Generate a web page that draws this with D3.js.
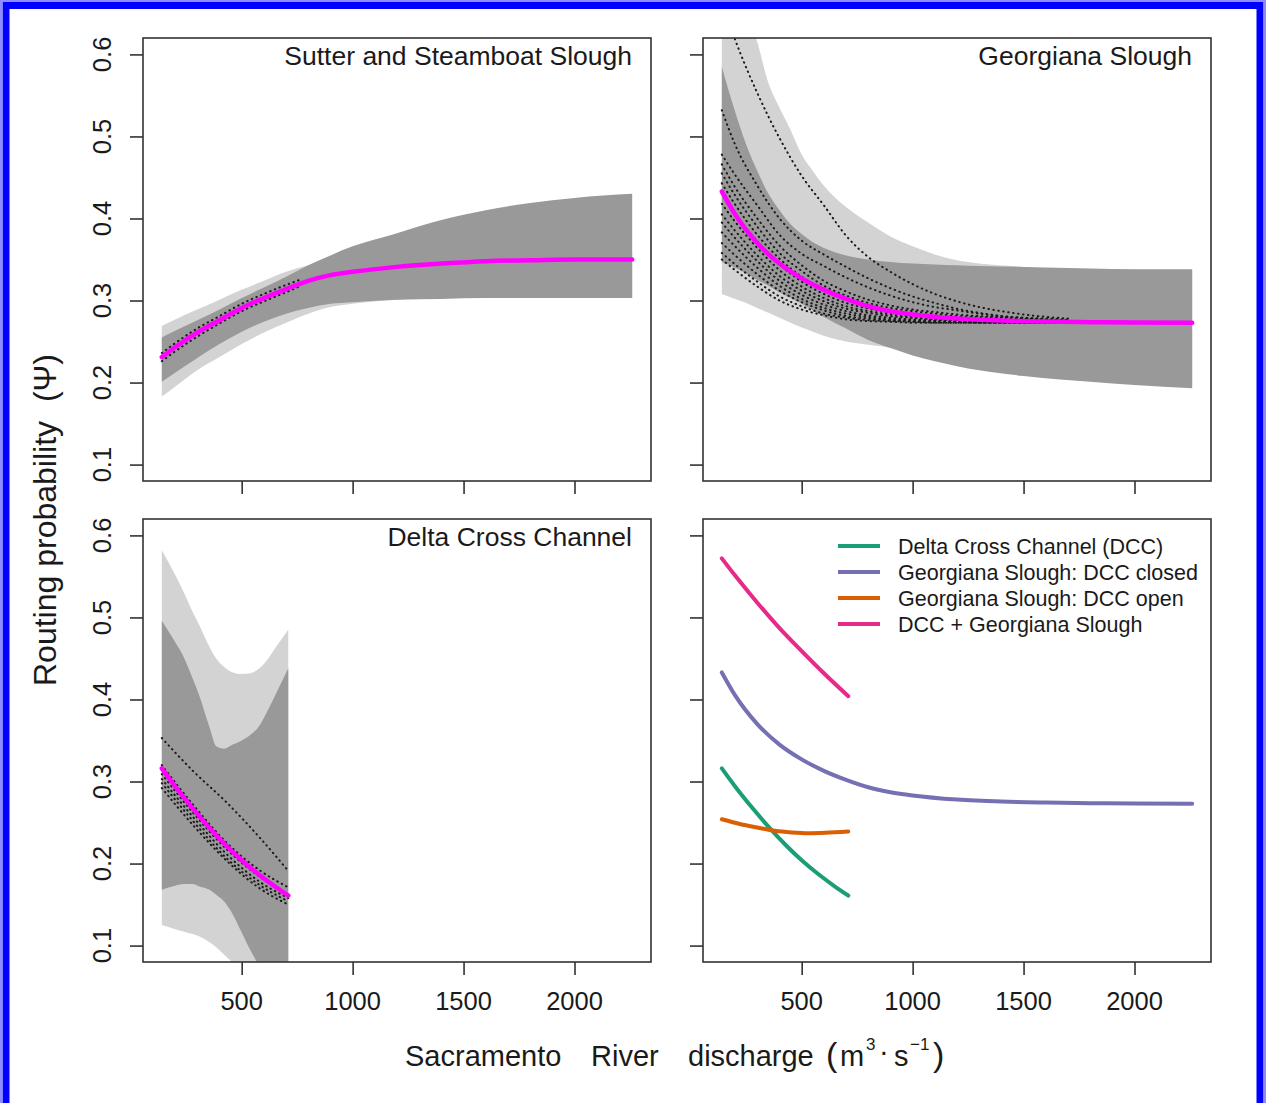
<!DOCTYPE html>
<html><head><meta charset="utf-8">
<script src="https://cdn.jsdelivr.net/npm/d3@7"></script>
<style>
body{margin:0;background:#fff}
svg{display:block}
text{font-family:"Liberation Sans",Arial,Helvetica,sans-serif;fill:#1a1a1a}
</style></head>
<body><svg id="c" width="1266" height="1103"></svg>
<script>
// ---------------- DATA ----------------
const xTicks = [500, 1000, 1500, 2000];
const yTicks = [0.1, 0.2, 0.3, 0.4, 0.5, 0.6];
const xRange = [140, 2260];
const yRange = [0.1, 0.6];
const panelTitles = ["Sutter and Steamboat Slough", "Georgiana Slough", "Delta Cross Channel", ""];
const legendLabels = ["Delta Cross Channel (DCC)", "Georgiana Slough: DCC closed", "Georgiana Slough: DCC open", "DCC + Georgiana Slough"];
const legendColors = ["#1b9e77", "#7570b3", "#d95f02", "#e7298a"];

// Sutter and Steamboat Slough
const sutterX       = [140, 200, 300, 400, 500, 600, 700, 800, 900, 1000, 1200, 1400, 1600, 1800, 2000, 2260];
const sutterMean    = [0.231, 0.243, 0.261, 0.276, 0.291, 0.303, 0.314, 0.324, 0.331, 0.335, 0.341, 0.345, 0.348, 0.349, 0.350, 0.350];
const sutterDarkHi  = [0.255, 0.263, 0.276, 0.289, 0.303, 0.316, 0.329, 0.343, 0.355, 0.366, 0.382, 0.398, 0.410, 0.419, 0.425, 0.430];
const sutterDarkLo  = [0.201, 0.212, 0.230, 0.247, 0.262, 0.274, 0.284, 0.291, 0.296, 0.298, 0.301, 0.302, 0.303, 0.303, 0.303, 0.303];
const sutterLightHi = [0.269, 0.277, 0.289, 0.301, 0.313, 0.324, 0.335, 0.343, 0.349, 0.353, 0.357, 0.360, 0.360, 0.360, 0.360, 0.360];
const sutterLightLo = [0.183, 0.195, 0.215, 0.231, 0.247, 0.261, 0.273, 0.284, 0.292, 0.296, 0.301, 0.303, 0.304, 0.304, 0.304, 0.304];
const sutterDotX    = [140, 200, 300, 400, 500, 600, 700, 760];
const sutterDotA    = [0.236, 0.248, 0.266, 0.281, 0.296, 0.308, 0.319, 0.325];
const sutterDotB    = [0.226, 0.238, 0.256, 0.272, 0.287, 0.299, 0.310, 0.317];

// Georgiana Slough (DCC closed)
const geoMeanX   = [140, 200, 300, 400, 500, 600, 700, 800, 900, 1000, 1200, 1400, 1600, 1800, 2000, 2260];
const geoMean    = [0.433, 0.405, 0.370, 0.345, 0.327, 0.313, 0.302, 0.293, 0.287, 0.283, 0.278, 0.2755, 0.2743, 0.2736, 0.2732, 0.273];
const geoBandX   = [140, 200, 250, 300, 350, 400, 450, 500, 550, 600, 700, 800, 900, 1000, 1100, 1200, 1300, 1500, 1800, 2000, 2260];
const geoLightHi = [0.720, 0.690, 0.655, 0.615, 0.565, 0.535, 0.508, 0.478, 0.458, 0.440, 0.414, 0.395, 0.378, 0.366, 0.356, 0.349, 0.345, 0.341, 0.336, 0.335, 0.334];
const geoDarkHi  = [0.585, 0.530, 0.490, 0.458, 0.430, 0.410, 0.393, 0.381, 0.371, 0.364, 0.355, 0.350, 0.347, 0.345, 0.344, 0.343, 0.342, 0.341, 0.339, 0.338, 0.338];
const geoDarkLo  = [0.347, 0.340, 0.333, 0.325, 0.318, 0.310, 0.303, 0.296, 0.288, 0.280, 0.266, 0.252, 0.242, 0.233, 0.226, 0.220, 0.215, 0.208, 0.201, 0.197, 0.193];
const geoLightLo = [0.308, 0.302, 0.297, 0.291, 0.285, 0.279, 0.273, 0.267, 0.262, 0.257, 0.250, 0.246, 0.2425, 0.2355, 0.2285, 0.2225, 0.2175, 0.2105, 0.2035, 0.1995, 0.1955];
const geoDotX    = [140, 200, 300, 400, 500, 600, 700, 800, 900, 1000, 1100, 1200, 1300, 1400, 1500, 1700];
const geoDot1  = [0.665, 0.618, 0.553, 0.498, 0.452, 0.416, 0.379, 0.353, 0.335, 0.320, 0.308, 0.299, 0.292, 0.287, 0.283, 0.278];
const geoDot2  = [0.532, 0.490, 0.440, 0.400, 0.373, 0.356, 0.341, 0.327, 0.315, 0.305, 0.297, 0.290, 0.285, 0.281, 0.278, 0.275];
const geoDot3  = [0.478, 0.453, 0.416, 0.380, 0.357, 0.342, 0.328, 0.316, 0.306, 0.298, 0.292, 0.288, 0.284, 0.281, 0.279, 0.276];
const geoDot4  = [0.466, 0.438, 0.400, 0.367, 0.343, 0.324, 0.311, 0.301, 0.294, 0.289, 0.286, 0.283, 0.281, 0.280, 0.279, 0.277];
const geoDot5  = [0.455, 0.428, 0.390, 0.358, 0.336, 0.318, 0.306, 0.297, 0.291, 0.287, 0.284, 0.281, 0.280, 0.279, 0.278, 0.276];
const geoDot6  = [0.443, 0.417, 0.380, 0.351, 0.329, 0.313, 0.301, 0.293, 0.288, 0.284, 0.281, 0.279, 0.278, 0.277, 0.277, 0.276];
const geoDot7  = [0.430, 0.405, 0.372, 0.344, 0.323, 0.308, 0.297, 0.290, 0.285, 0.282, 0.280, 0.278, 0.277, 0.276, 0.276, 0.275];
const geoDot8  = [0.418, 0.396, 0.364, 0.337, 0.317, 0.303, 0.293, 0.287, 0.283, 0.280, 0.278, 0.277, 0.276, 0.275, 0.275, 0.274];
const geoDot9  = [0.405, 0.385, 0.355, 0.330, 0.312, 0.299, 0.290, 0.285, 0.281, 0.279, 0.277, 0.276, 0.275, 0.275, 0.275, 0.274];
const geoDot10 = [0.395, 0.376, 0.348, 0.324, 0.307, 0.295, 0.287, 0.282, 0.279, 0.277, 0.276, 0.275, 0.274, 0.274, 0.274, 0.274];
const geoDot11 = [0.383, 0.366, 0.340, 0.318, 0.302, 0.291, 0.284, 0.280, 0.277, 0.276, 0.275, 0.274, 0.274, 0.274, 0.273, 0.273];
const geoDot12 = [0.370, 0.355, 0.332, 0.312, 0.298, 0.288, 0.281, 0.278, 0.276, 0.275, 0.274, 0.274, 0.273, 0.273, 0.273, 0.273];
const geoDot13 = [0.358, 0.344, 0.323, 0.305, 0.293, 0.284, 0.279, 0.276, 0.275, 0.274, 0.273, 0.273, 0.273, 0.273, 0.273, 0.273];
const geoDot14 = [0.350, 0.337, 0.317, 0.300, 0.289, 0.282, 0.277, 0.275, 0.274, 0.273, 0.273, 0.273, 0.273, 0.273, 0.273, 0.273];

// Delta Cross Channel
const dccX       = [140, 200, 280, 350, 430, 500, 580, 650, 710];
const dccMean    = [0.316, 0.294, 0.267, 0.245, 0.222, 0.204, 0.186, 0.172, 0.161];
const dccBandX   = [140, 200, 240, 280, 310, 355, 385, 420, 460, 500, 540, 580, 620, 660, 710];
const dccLightHi = [0.582, 0.552, 0.530, 0.506, 0.490, 0.464, 0.450, 0.440, 0.433, 0.431, 0.432, 0.438, 0.450, 0.466, 0.485];
const dccDarkHi  = [0.496, 0.470, 0.451, 0.425, 0.404, 0.366, 0.343, 0.340, 0.345, 0.350, 0.357, 0.368, 0.388, 0.410, 0.438];
const dccDarkLo  = [0.168, 0.173, 0.175, 0.175, 0.172, 0.168, 0.162, 0.154, 0.138, 0.116, 0.094, 0.075, 0.060, 0.050, 0.040];
const dccLightLo = [0.125, 0.120, 0.117, 0.114, 0.111, 0.104, 0.098, 0.089, 0.079, 0.068, 0.060, 0.050, 0.045, 0.040, 0.040];
const dccDotX    = [140, 280, 430, 580, 710];
const dccDot1 = [0.353, 0.313, 0.275, 0.232, 0.191];
const dccDot2 = [0.320, 0.272, 0.226, 0.192, 0.171];
const dccDot3 = [0.309, 0.262, 0.218, 0.184, 0.162];
const dccDot4 = [0.303, 0.257, 0.212, 0.178, 0.158];
const dccDot5 = [0.298, 0.252, 0.207, 0.174, 0.154];
const dccDot6 = [0.292, 0.247, 0.204, 0.170, 0.150];

// Summary panel
const openX    = [140, 225, 300, 380, 455, 530, 607, 710];
const openMean = [0.254, 0.248, 0.244, 0.240, 0.238, 0.237, 0.2375, 0.239];
const sumX     = [140, 200, 300, 400, 500, 600, 710];
const sumMean  = [0.572, 0.551, 0.518, 0.487, 0.459, 0.432, 0.404];

// ---------------- DRAW ----------------
const svg = d3.select("#c");
svg.append("rect").attr("width", 1266).attr("height", 1103).attr("fill", "#fff");

const pad = (a, f) => [a[0] - f * (a[1] - a[0]), a[1] + f * (a[1] - a[0])];
const xDomain = pad(xRange, 0.04);
const yDomain = pad(yRange, 0.04);

const LIGHT = "#d3d3d3", DARK = "#999999", MAG = "#ff00ff", INK = "#333";

const panels = [
  {x0: 143, x1: 651, y0: 38,  y1: 481, title: panelTitles[0], xLab: false, yLab: true},
  {x0: 703, x1: 1211, y0: 38, y1: 481, title: panelTitles[1], xLab: false, yLab: false},
  {x0: 143, x1: 651, y0: 519, y1: 962, title: panelTitles[2], xLab: true, yLab: true},
  {x0: 703, x1: 1211, y0: 519, y1: 962, title: panelTitles[3], xLab: true, yLab: false}
];

const zipBand = (xs, lo, hi) => xs.map((x, i) => ({x, lo: lo[i], hi: hi[i]}));
const zipLine = (xs, ys) => xs.map((x, i) => ({x, y: ys[i]}));

panels.forEach((p, i) => {
  p.x = d3.scaleLinear().domain(xDomain).range([p.x0, p.x1]);
  p.y = d3.scaleLinear().domain(yDomain).range([p.y1, p.y0]);
  const clipId = "clip" + i;
  svg.append("clipPath").attr("id", clipId).append("rect")
    .attr("x", p.x0).attr("y", p.y0).attr("width", p.x1 - p.x0).attr("height", p.y1 - p.y0);
  p.g = svg.append("g").attr("clip-path", `url(#${clipId})`);
  p.area = d3.area().x(d => p.x(d.x)).y0(d => p.y(d.lo)).y1(d => p.y(d.hi)).curve(d3.curveMonotoneX);
  p.line = d3.line().x(d => p.x(d.x)).y(d => p.y(d.y)).curve(d3.curveMonotoneX);
});

function band(p, data, color) {
  p.g.append("path").datum(data).attr("d", p.area).attr("fill", color).attr("stroke", "none");
}
function dotted(p, data) {
  p.g.append("path").datum(data).attr("d", p.line).attr("fill", "none")
    .attr("stroke", "#1a1a1a").attr("stroke-width", 2).attr("stroke-linecap", "round")
    .attr("stroke-dasharray", "0.5,4.5");
}
function solid(p, data, color, w) {
  p.g.append("path").datum(data).attr("d", p.line).attr("fill", "none")
    .attr("stroke", color).attr("stroke-width", w).attr("stroke-linecap", "round");
}

// Panel 1: Sutter and Steamboat
{
  const p = panels[0];
  band(p, zipBand(sutterX, sutterLightLo, sutterLightHi), LIGHT);
  band(p, zipBand(sutterX, sutterDarkLo, sutterDarkHi), DARK);
  [sutterDotA, sutterDotB].forEach(d => dotted(p, zipLine(sutterDotX, d)));
  solid(p, zipLine(sutterX, sutterMean), MAG, 4.5);
}
// Panel 2: Georgiana
{
  const p = panels[1];
  band(p, zipBand(geoBandX, geoLightLo, geoLightHi), LIGHT);
  band(p, zipBand(geoBandX, geoDarkLo, geoDarkHi), DARK);
  [geoDot1, geoDot2, geoDot3, geoDot4, geoDot5, geoDot6, geoDot7, geoDot8, geoDot9, geoDot10, geoDot11, geoDot12, geoDot13, geoDot14]
    .forEach(d => dotted(p, zipLine(geoDotX, d)));
  solid(p, zipLine(geoMeanX, geoMean), MAG, 4.5);
}
// Panel 3: DCC
{
  const p = panels[2];
  band(p, zipBand(dccBandX, dccLightLo, dccLightHi), LIGHT);
  band(p, zipBand(dccBandX, dccDarkLo, dccDarkHi), DARK);
  [dccDot1, dccDot2, dccDot3, dccDot4, dccDot5, dccDot6].forEach(d => dotted(p, zipLine(dccDotX, d)));
  solid(p, zipLine(dccX, dccMean), MAG, 4.5);
}
// Panel 4: summary
{
  const p = panels[3];
  solid(p, zipLine(sumX, sumMean), legendColors[3], 4);
  solid(p, zipLine(geoMeanX, geoMean), legendColors[1], 4);
  solid(p, zipLine(dccX, dccMean), legendColors[0], 4);
  solid(p, zipLine(openX, openMean), legendColors[2], 4);
  const lg = svg.append("g");
  legendLabels.forEach((lab, k) => {
    const yy = 546 + k * 26;
    lg.append("line").attr("x1", 838).attr("x2", 880).attr("y1", yy).attr("y2", yy)
      .attr("stroke", legendColors[k]).attr("stroke-width", 4);
    lg.append("text").attr("x", 898).attr("y", yy + 8).attr("font-size", 21.5).text(lab);
  });
}

// Axes, boxes, titles
const fmt = d3.format(".1f");
panels.forEach(p => {
  svg.append("rect").attr("x", p.x0).attr("y", p.y0).attr("width", p.x1 - p.x0).attr("height", p.y1 - p.y0)
    .attr("fill", "none").attr("stroke", INK).attr("stroke-width", 1.6);
  const ax = svg.append("g").attr("transform", `translate(0,${p.y1})`)
    .call(d3.axisBottom(p.x).tickValues(xTicks).tickSize(13).tickSizeOuter(0).tickFormat(""));
  const ay = svg.append("g").attr("transform", `translate(${p.x0},0)`)
    .call(d3.axisLeft(p.y).tickValues(yTicks).tickSize(13).tickSizeOuter(0).tickFormat(""));
  [ax, ay].forEach(a => {
    a.select(".domain").remove();
    a.selectAll(".tick line").attr("stroke", INK).attr("stroke-width", 1.6);
  });
  if (p.xLab) {
    svg.append("g").selectAll("text").data(xTicks).join("text")
      .attr("x", d => p.x(d)).attr("y", 1010).attr("text-anchor", "middle")
      .attr("font-size", 25.5).text(d => d);
  }
  if (p.yLab) {
    svg.append("g").selectAll("text").data(yTicks).join("text")
      .attr("transform", d => `translate(111,${p.y(d)}) rotate(-90)`)
      .attr("text-anchor", "middle").attr("font-size", 25.5).text(d => fmt(d));
  }
  if (p.title) {
    svg.append("text").attr("x", p.x1 - 19).attr("y", p.y0 + 27).attr("text-anchor", "end")
      .attr("font-size", 26.5).text(p.title);
  }
});

// Axis titles
const xt = svg.append("g").attr("font-size", 29);
xt.append("text").attr("x", 405).attr("y", 1066).text("Sacramento");
xt.append("text").attr("x", 591).attr("y", 1066).text("River");
xt.append("text").attr("x", 688).attr("y", 1066).text("discharge");
xt.append("text").attr("x", 826).attr("y", 1066).attr("font-size", 34).text("(");
xt.append("text").attr("x", 840).attr("y", 1066).text("m");
xt.append("text").attr("x", 866).attr("y", 1050).attr("font-size", 17).text("3");
xt.append("text").attr("x", 879).attr("y", 1061).text("·");
xt.append("text").attr("x", 894).attr("y", 1066).text("s");
xt.append("text").attr("x", 910).attr("y", 1050).attr("font-size", 17).text("−1");
xt.append("text").attr("x", 933).attr("y", 1066).attr("font-size", 34).text(")");

svg.append("text").attr("transform", "translate(56,686) rotate(-90)").attr("font-size", 32)
  .text("Routing probability");
svg.append("text").attr("transform", "translate(56,354) rotate(-90)").attr("font-size", 32)
  .attr("text-anchor", "end").text("(Ψ)");

// outer blue frame
svg.append("rect").attr("x", 1).attr("y", 1).attr("width", 1264).attr("height", 1130)
  .attr("fill", "none").attr("stroke", "#8c8cff").attr("stroke-width", 2);
svg.append("rect").attr("x", 6).attr("y", 5.5).attr("width", 1254).attr("height", 1130)
  .attr("fill", "none").attr("stroke", "#0000ff").attr("stroke-width", 7);
</script></body></html>
